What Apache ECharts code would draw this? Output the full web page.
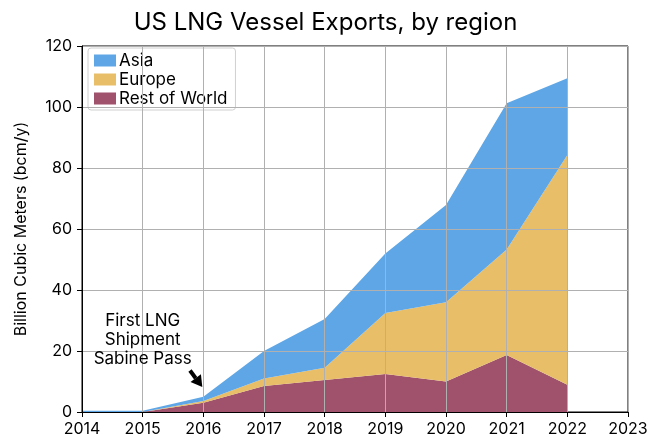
<!DOCTYPE html>
<html>
<head>
<meta charset="utf-8">
<script src="https://cdn.jsdelivr.net/npm/echarts@6/dist/echarts.min.js"></script>
<style>
  html, body { margin: 0; padding: 0; background: #fff; }
  #chart { width: 651px; height: 438px; }
</style>
</head>
<body>
<div id="chart"></div>
<script>
// tick labels; 2023 has no data
var years = ['2014', '2015', '2016', '2017', '2018', '2019', '2020', '2021', '2022', '2023'];
var restOfWorld = [0, 0, 3, 8.5, 10.5, 12.5, 10, 18.7, 8.9];
var europe = [0, 0, 0.6, 2.5, 4, 20, 26, 34.6, 75.4];
var asia = [0.4, 0.4, 1.4, 9, 16, 19.5, 31.9, 47.9, 25.1];

var font = 'Inter';

function area(name, vals, color) {
    return {
        name: name,
        type: 'line',
        stack: 'total',
        data: vals,
        symbol: 'none',
        lineStyle: { width: 0 },
        areaStyle: { color: color, opacity: 1 },
        itemStyle: { color: color },
        z: 2
    };
}

var chart = echarts.init(document.getElementById('chart'));

var option = {
    animation: false,
    title: {
        text: 'US LNG Vessel Exports, by region',
        left: 'center',
        top: 6,
        textStyle: { fontFamily: font, fontSize: 24, fontWeight: 'normal', color: '#000' }
    },
    legend: {
        orient: 'vertical',
        left: 88,
        top: 48,
        data: ['Asia', 'Europe', 'Rest of World'],
        itemWidth: 22,
        itemHeight: 12,
        itemGap: 2,
        padding: [4, 8, 3, 6],
        borderColor: '#d0d0d0',
        borderWidth: 1,
        borderRadius: 3,
        backgroundColor: '#fff',
        icon: 'rect',
        textStyle: { fontFamily: font, fontSize: 17, color: '#000', padding: [0, 0, 0, -2] }
    },
    grid: {
        left: 82, right: 23, top: 46, bottom: 26,
        show: true, borderColor: '#000', borderWidth: 1
    },
    xAxis: {
        type: 'category',
        data: years,
        boundaryGap: false,
        z: 5,
        axisLine: { show: true, lineStyle: { color: '#000' } },
        axisTick: { show: true, length: 5, alignWithLabel: true, lineStyle: { color: '#000' } },
        axisLabel: { fontFamily: font, fontSize: 16, color: '#000', margin: 9, interval: 0 },
        splitLine: { show: true, interval: 0, lineStyle: { color: '#b0b0b0', width: 1 } }
    },
    yAxis: {
        type: 'value',
        min: 0, max: 120, interval: 20,
        z: 5,
        name: 'Billion Cubic Meters (bcm/y)',
        nameLocation: 'middle',
        nameGap: 53,
        nameTextStyle: { fontFamily: font, fontSize: 16, color: '#000' },
        axisLine: { show: true, lineStyle: { color: '#000' } },
        axisTick: { show: true, length: 5, lineStyle: { color: '#000' } },
        axisLabel: { fontFamily: font, fontSize: 16, color: '#000', margin: 10 },
        splitLine: { show: true, lineStyle: { color: '#b0b0b0', width: 1 } }
    },
    series: [
        area('Rest of World', restOfWorld, '#a0516b'),
        area('Europe', europe, '#e8be68'),
        area('Asia', asia, '#5ea6e5')
    ]
};
chart.setOption(option);

// annotation: text and arrow pointing at the 2016 point
var p15 = chart.convertToPixel({ gridIndex: 0 }, [1, 0]);
var p16 = chart.convertToPixel({ gridIndex: 0 }, [2, 8.2]);
var tail = chart.convertToPixel({ gridIndex: 0 }, [2, 13.6]);
var tipX = p16[0] - 1, tipY = p16[1];
var tailX = p15[0] + (p16[0] - p15[0]) * 0.78, tailY = tail[1];
var ang = Math.atan2(tipY - tailY, tipX - tailX);
var hl = 11, hw = 6.5;
var bx = tipX - hl * Math.cos(ang), by = tipY - hl * Math.sin(ang);
var nx = -Math.sin(ang) * hw, ny = Math.cos(ang) * hw;

chart.setOption({
    graphic: [{
        type: 'text',
        x: p15[0],
        y: 311,
        z: 10,
        style: {
            text: 'First LNG\nShipment\nSabine Pass',
            align: 'center',
            fontFamily: font,
            fontSize: 17,
            lineHeight: 19,
            fill: '#000'
        }
    }, {
        type: 'line',
        z: 10,
        shape: { x1: tailX, y1: tailY, x2: bx, y2: by },
        style: { stroke: '#000', lineWidth: 4 }
    }, {
        type: 'polygon',
        z: 10,
        shape: { points: [[tipX, tipY], [bx + nx, by + ny], [bx - nx, by - ny]] },
        style: { fill: '#000' }
    }]
});
</script>
</body>
</html>
